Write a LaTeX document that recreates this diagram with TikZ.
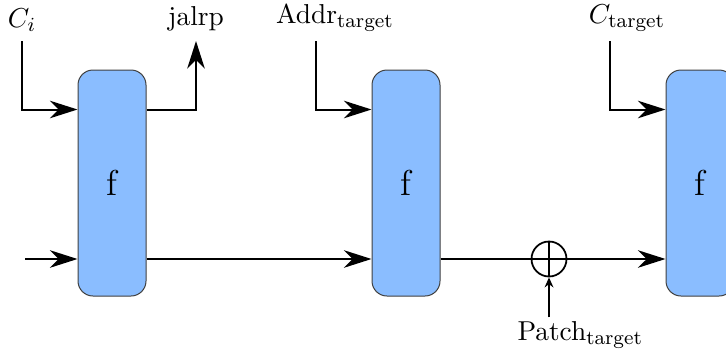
\documentclass[11pt,tikz,border=0pt]{standalone}
\usepackage{amsmath, amssymb}
\usepackage{tikz}
\usetikzlibrary{arrows.meta}

\definecolor{fblue}{HTML}{8ABDFF}

\begin{document}
\begin{tikzpicture}[x=0.4pt, y=-0.4pt]
        \tikzstyle{block} = [draw=black!75, fill=fblue, rounded corners=6pt, minimum width=27.2pt, minimum height=90.4pt, inner sep=0pt, font=\Large]
        \tikzstyle{pointer} = [-{Stealth[length=11pt, width=7pt, inset=3.5pt]}, line width=0.8pt]
        \tikzstyle{small pointer} = [-{Stealth[length=4pt, width=3.5pt]}, line width=0.8pt]
        \tikzstyle{sum} = [draw, circle, minimum size=14pt, inner sep=0pt, line width=0.7pt]
        \clip (0,0) rectangle (726,354);
        % the three f blocks
        \node[block] (F1) at (112,183) {f};
        \node[block] (F2) at (406,183) {f};
        \node[block] (F3) at (700,183) {f};
        % inputs and outputs
        \node[anchor=south] (Ci) at (22,41) {$C_i$};
        \node[anchor=south] (J) at (196,41) {jalrp};
        \node[anchor=south] (A) at (335,41) {Addr$_{\text{target}}$};
        \node[anchor=south] (Ct) at (627,41) {$C_{\text{target}}$};
        \node[sum] (S) at (549,259) {};
        \node[anchor=north west, inner sep=0pt] (P) at (517,321) {Patch$_{\text{target}}$};
        \coordinate (in) at (25,259);
        \draw[line width=0.7pt] (S.north) -- (S.south) (S.west) -- (S.east);
        \draw[pointer] (Ci.south) |- ([yshift=-16pt]F1.north west);
        \draw[pointer] ([yshift=-16pt]F1.north east) -| (J.south);
        \draw[pointer] ([xshift=-7.6pt]A.south) |- ([yshift=-16pt]F2.north west);
        \draw[pointer] ([xshift=-6.8pt]Ct.south) |- ([yshift=-16pt]F3.north west);
        \draw[pointer] (in) -- (F1.west |- in);
        \draw[pointer] (F1.east |- in) -- (F2.west |- in);
        \draw[line width=0.8pt] (F2.east |- S) -- (S.west);
        \draw[pointer] (S.east) -- (F3.west |- S);
        \draw[small pointer] ([yshift=1.5pt]S.south |- P.north) -- (S.south);
    \end{tikzpicture}
\end{document}
